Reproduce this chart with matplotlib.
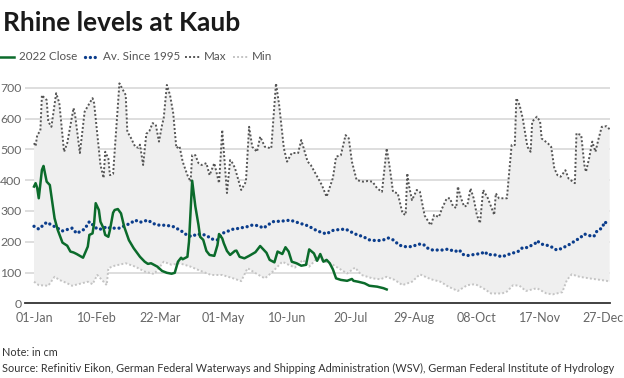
import matplotlib
matplotlib.use("Agg")
import matplotlib.pyplot as plt
from matplotlib.lines import Line2D
import numpy as np

plt.rcParams['font.family'] = ['Lato', 'DejaVu Sans']

# ---- data (day of year, 0 = 01-Jan) ----
tick_days = [0, 40, 80, 120, 160, 200, 240, 280, 320, 360]
tick_labels = ["01-Jan", "10-Feb", "22-Mar", "01-May", "10-Jun", "20-Jul",
               "29-Aug", "08-Oct", "17-Nov", "27-Dec"]
y_ticks = [0, 100, 200, 300, 400, 500, 600, 700]

close_days = [0, 1, 2, 3, 5, 6, 8, 10, 11, 13, 15, 18, 21, 23, 25, 27, 29, 31,
              34, 35, 37, 38, 39, 41, 42, 44, 45, 47, 48, 50, 51, 53, 55, 57,
              60, 63, 67, 70, 72, 74, 78, 81, 84, 87, 89, 91, 93, 94, 97, 98,
              100, 102, 104, 105, 107, 109, 111, 114, 116, 117, 119, 120, 122,
              124, 127, 128, 130, 133, 136, 140, 143, 147, 149, 152, 154, 157,
              159, 161, 163, 166, 169, 172, 174, 177, 179, 181, 183, 185, 187,
              189, 191, 194, 198, 201, 202, 205, 209, 212, 217, 221, 223]
close_vals = [379, 390, 375, 341, 433, 446, 395, 384, 348, 276, 238, 197, 187,
              168, 165, 160, 154, 148, 184, 222, 227, 260, 325, 303, 265, 243,
              222, 216, 238, 294, 303, 306, 292, 249, 205, 179, 151, 135, 128,
              130, 119, 105, 99, 96, 99, 135, 148, 143, 151, 200, 398, 315,
              254, 216, 206, 170, 157, 154, 189, 225, 211, 195, 170, 157, 170,
              171, 151, 146, 154, 166, 186, 164, 141, 133, 168, 160, 182, 168,
              135, 130, 122, 125, 175, 162, 138, 160, 135, 141, 130, 110, 81,
              76, 73, 79, 73, 70, 65, 57, 54, 49, 45]

avg_days = [0, 3, 5, 8, 13, 18, 24, 27, 32, 35, 40, 43, 46, 48, 54, 61, 64, 67,
            72, 75, 78, 81, 85, 88, 91, 94, 97, 100, 103, 108, 110, 112, 116,
            119, 123, 126, 127, 135, 138, 142, 145, 151, 157, 162, 168, 173,
            176, 179, 182, 185, 188, 190, 197, 203, 206, 209, 212, 217, 221,
            224, 227, 231, 234, 239, 243, 246, 249, 252, 258, 262, 266, 269,
            271, 274, 279, 283, 285, 287, 290, 296, 299, 302, 306, 309, 312,
            317, 318, 321, 324, 327, 329, 331, 334, 337, 340, 342, 345, 348,
            351, 354, 356, 359, 361, 363]
avg_vals = [250, 241, 250, 263, 249, 235, 244, 227, 241, 265, 241, 241, 249,
            244, 244, 260, 270, 263, 270, 260, 254, 254, 252, 249, 241, 232,
            220, 217, 225, 222, 217, 209, 206, 227, 235, 241, 241, 249, 254,
            252, 244, 265, 267, 270, 260, 252, 244, 235, 230, 225, 235, 238,
            241, 225, 220, 214, 206, 203, 206, 212, 206, 189, 184, 184, 192,
            192, 179, 173, 173, 176, 168, 173, 159, 155, 159, 162, 168, 157,
            159, 151, 157, 162, 168, 181, 181, 195, 203, 192, 189, 184, 176,
            173, 179, 187, 195, 203, 211, 225, 220, 217, 235, 244, 265, 252]

max_days = [0, 1, 2, 4, 5, 6, 8, 9, 11, 14, 16, 19, 21, 25, 26, 29, 32, 34, 37,
            38, 42, 44, 45, 47, 48, 50, 54, 58, 59, 61, 64, 66, 67, 69, 71, 73,
            75, 77, 79, 81, 82, 84, 86, 88, 90, 92, 94, 97, 99, 100, 102, 104,
            106, 109, 111, 114, 117, 119, 122, 124, 125, 127, 131, 134, 136,
            138, 141, 143, 146, 150, 153, 155, 158, 160, 163, 167, 169, 173,
            175, 182, 185, 189, 191, 194, 197, 199, 201, 204, 208, 211, 214,
            217, 220, 223, 225, 227, 230, 233, 235, 236, 237, 239, 242, 244,
            247, 250, 251, 253, 256, 258, 261, 263, 265, 267, 268, 270, 272,
            274, 276, 278, 280, 282, 284, 287, 289, 291, 292, 294, 299, 302,
            304, 305, 307, 309, 312, 314, 315, 318, 320, 321, 325, 327, 329,
            331, 333, 336, 338, 342, 343, 346, 348, 349, 351, 353, 355, 357,
            359, 362, 364]
max_vals = [520, 510, 546, 560, 676, 670, 660, 590, 573, 682, 650, 492, 520,
            634, 610, 488, 622, 640, 666, 650, 450, 407, 492, 470, 416, 420,
            714, 676, 557, 540, 508, 505, 515, 449, 550, 560, 585, 580, 525,
            580, 601, 709, 676, 618, 504, 510, 460, 416, 395, 481, 481, 455,
            449, 455, 416, 455, 390, 563, 358, 465, 460, 440, 368, 395, 573,
            508, 492, 541, 508, 503, 714, 644, 503, 460, 488, 488, 530, 460,
            449, 384, 346, 407, 476, 481, 546, 536, 460, 400, 395, 397, 395,
            373, 362, 503, 438, 362, 357, 292, 287, 422, 384, 335, 368, 362,
            285, 260, 254, 287, 280, 308, 341, 341, 314, 310, 379, 341, 314,
            318, 373, 341, 287, 260, 368, 341, 314, 287, 357, 341, 341, 514,
            514, 666, 644, 601, 508, 492, 590, 606, 590, 535, 519, 508, 438,
            416, 411, 432, 405, 390, 552, 546, 449, 427, 471, 525, 492, 535,
            573, 575, 565]

min_days = [0, 3, 9, 13, 16, 21, 24, 28, 34, 37, 40, 44, 46, 47, 51, 58, 64,
            70, 76, 82, 87, 92, 99, 104, 112, 119, 126, 131, 135, 142, 146,
            151, 157, 161, 165, 170, 174, 179, 184, 189, 198, 203, 207, 214,
            219, 223, 228, 233, 239, 244, 251, 257, 262, 268, 274, 279, 284,
            289, 296, 299, 303, 307, 311, 318, 324, 328, 334, 337, 340, 345,
            351, 358, 362, 364]
min_vals = [70, 59, 57, 86, 76, 65, 57, 62, 70, 62, 92, 70, 59, 114, 122, 130,
            119, 103, 95, 135, 125, 130, 119, 108, 92, 92, 81, 72, 114, 92, 81,
            103, 135, 125, 116, 141, 119, 146, 135, 125, 97, 116, 92, 81, 78,
            86, 76, 59, 70, 94, 78, 70, 54, 40, 59, 62, 49, 32, 32, 38, 59, 57,
            40, 49, 32, 29, 36, 76, 94, 86, 81, 76, 73, 70]

series_labels = ["2022 Close", "Av. Since 1995", "Max", "Min"]

# ---- styles ----
GREEN = "#0b6b2b"
BLUE = "#0b3d8c"
MAXC = "#555555"
MINC = "#c4c4c4"
FILL = "#efefef"
GRID = "#d4d4d4"
TXT = "#666666"

W, H = 624, 378
fig = plt.figure(figsize=(W / 100, H / 100), dpi=100)

ax_l, ax_r = 25 / W, 610 / W
y0_px = 303.3
ppu = 0.308  # px per cm
ytop = 720
ax_b = (H - y0_px) / H
ax_t = (H - (y0_px - ytop * ppu)) / H
ax = fig.add_axes([ax_l, ax_b, ax_r - ax_l, ax_t - ax_b])

ax.set_xlim(-5.7, 364.2)
ax.set_ylim(0, ytop)

# band between min and max
poly_x = np.concatenate([max_days, min_days[::-1]])
poly_y = np.concatenate([max_vals, min_vals[::-1]])
ax.fill(poly_x, poly_y, color=FILL, lw=0, zorder=1)

for yt in y_ticks[1:]:
    ax.axhline(yt, color=GRID, lw=1.1, zorder=0.5)

ax.plot(min_days, min_vals, color=MINC, lw=1.4, linestyle=(0, (1, 1.1)), zorder=2)
ax.plot(max_days, max_vals, color=MAXC, lw=1.4, linestyle=(0, (1, 1.1)), zorder=3)
ax.plot(avg_days, avg_vals, color=BLUE, lw=2.4, linestyle=(0, (0.01, 1.45)),
        dash_capstyle='round', zorder=4)
ax.plot(close_days, close_vals, color=GREEN, lw=1.8, zorder=5,
        solid_joinstyle='round')

for s in ["top", "right", "left"]:
    ax.spines[s].set_visible(False)
ax.spines["bottom"].set_color("#333333")
ax.spines["bottom"].set_linewidth(1.3)
ax.spines["bottom"].set_bounds(-5.7, 364.2)

ax.set_xticks(tick_days)
ax.set_xticklabels(tick_labels)
ax.set_yticks(y_ticks)
ax.tick_params(axis='both', length=0, labelcolor=TXT)
ax.tick_params(axis='x', pad=6, labelsize=9)
ax.tick_params(axis='y', pad=2.5, labelsize=8.8)

# title
fig.text(3 / W, 1 - 31 / H, "Rhine levels at Kaub", fontsize=19, fontweight='bold',
         color="#1a1a1a", ha='left', va='baseline')

# legend (manual)
ly = 1 - 57 / H
fig.add_artist(Line2D([0, 14 / W], [ly, ly], color=GREEN, lw=1.8))
fig.add_artist(Line2D([85 / W, 97 / W], [ly, ly], color=BLUE, lw=2.4,
                      linestyle=(0, (0.01, 1.45)), dash_capstyle='round'))
fig.add_artist(Line2D([185 / W, 200 / W], [ly, ly], color=MAXC, lw=1.4,
                      linestyle=(0, (1, 1.1))))
fig.add_artist(Line2D([233 / W, 248 / W], [ly, ly], color=MINC, lw=1.4,
                      linestyle=(0, (1, 1.1))))
for xp, lab in zip([19, 103, 204, 252], series_labels):
    fig.text(xp / W, ly, lab, fontsize=8.4, color="#555555", ha='left', va='center')

# footer
fig.text(2 / W, 1 - 352 / H, "Note: in cm", fontsize=7.8, color="#333333",
         ha='left', va='center')
fig.text(2 / W, 1 - 368 / H,
         "Source: Refinitiv Eikon, German Federal Waterways and Shipping Administration (WSV), German Federal Institute of Hydrology",
         fontsize=7.8, color="#333333", ha='left', va='center')

fig.savefig("out.png", dpi=100)
